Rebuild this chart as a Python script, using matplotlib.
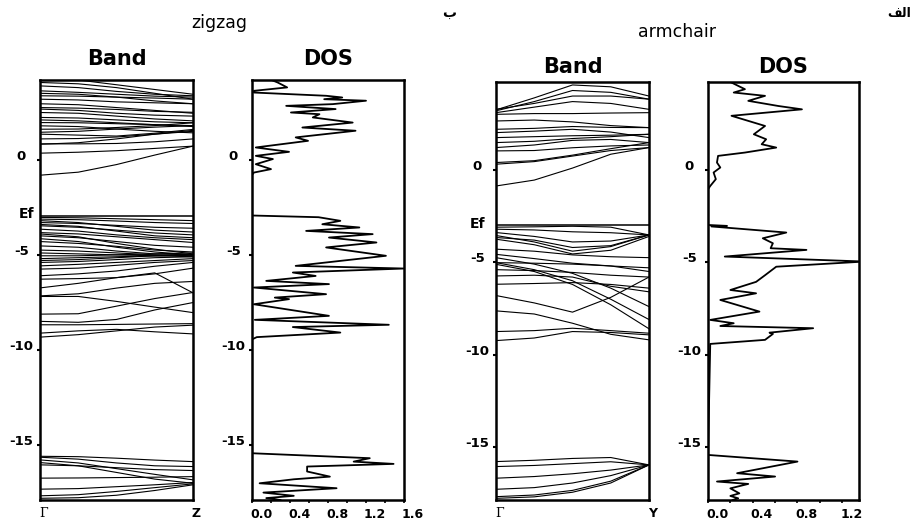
import matplotlib.pyplot as plt
from matplotlib.transforms import ScaledTranslation

# k path sampled at five points between the two zone labels
K_PTS = [0.0, 0.25, 0.5, 0.75, 1.0]

E_TICKS = [0, -5, -10, -15]
E_TICK_LABELS = ['0', '-5', '-10', '-15']

# ---------------- zigzag ----------------
ZZ_EF = -2.95
ZZ_YLIM = (-17.9, 4.2)

zz_upper = [
    [-0.81, -0.65, -0.25, 0.25, 0.72],
    [0.35, 0.40, 0.48, 0.60, 0.72],
    [0.84, 0.84, 0.86, 0.95, 1.10],
    [0.82, 0.90, 1.10, 1.35, 1.55],
    [1.10, 1.12, 1.20, 1.35, 1.50],
    [1.35, 1.30, 1.25, 1.40, 1.60],
    [1.45, 1.50, 1.62, 1.72, 1.80],
    [1.61, 1.62, 1.70, 1.80, 1.95],
    [1.79, 1.75, 1.62, 1.50, 1.42],
    [1.96, 1.95, 1.90, 1.85, 1.80],
    [2.10, 2.05, 1.95, 1.85, 1.75],
    [2.23, 2.20, 2.10, 2.00, 1.95],
    [2.49, 2.45, 2.30, 2.15, 2.05],
    [2.67, 2.60, 2.45, 2.35, 2.30],
    [2.75, 2.72, 2.65, 2.55, 2.50],
    [2.95, 2.90, 2.75, 2.60, 2.45],
    [3.19, 3.15, 3.05, 3.00, 2.95],
    [3.37, 3.35, 3.30, 3.25, 3.19],
    [3.50, 3.45, 3.30, 3.10, 2.95],
    [3.63, 3.55, 3.45, 3.35, 3.30],
    [3.89, 3.80, 3.60, 3.45, 3.37],
    [4.07, 4.00, 3.80, 3.50, 3.19],
    [4.40, 4.20, 3.95, 3.70, 3.45],
]

zz_lower = [
    [-3.03, -3.05, -3.10, -3.15, -3.20],
    [-3.12, -3.15, -3.22, -3.30, -3.35],
    [-3.20, -3.30, -3.50, -3.70, -3.80],
    [-3.30, -3.35, -3.45, -3.55, -3.60],
    [-3.40, -3.50, -3.75, -4.00, -4.10],
    [-3.47, -3.55, -3.70, -3.85, -3.95],
    [-3.65, -3.75, -3.95, -4.10, -4.20],
    [-3.83, -3.90, -4.05, -4.20, -4.35],
    [-3.90, -4.05, -4.40, -4.70, -4.95],
    [-4.00, -4.10, -4.30, -4.50, -4.60],
    [-4.15, -4.30, -4.60, -4.85, -5.00],
    [-4.30, -4.40, -4.55, -4.75, -4.85],
    [-4.53, -4.60, -4.80, -4.95, -5.00],
    [-4.75, -4.80, -4.90, -5.00, -5.05],
    [-4.90, -4.95, -5.00, -5.05, -5.10],
    [-5.05, -5.05, -5.00, -4.95, -4.90],
    [-5.20, -5.15, -5.10, -5.05, -5.00],
    [-5.30, -5.25, -5.15, -5.05, -5.00],
    [-5.40, -5.35, -5.25, -5.15, -5.10],
    [-5.58, -5.50, -5.40, -5.30, -5.20],
    [-5.75, -5.70, -5.55, -5.40, -5.30],
    [-6.10, -6.00, -5.85, -5.60, -5.40],
    [-6.28, -6.25, -6.20, -6.00, -5.70],
    [-6.74, -6.50, -6.20, -5.95, -7.00],
    [-7.19, -7.19, -7.45, -7.75, -8.04],
    [-7.16, -7.05, -6.75, -6.50, -6.40],
    [-8.12, -8.10, -7.70, -7.30, -6.98],
    [-8.50, -8.55, -8.40, -7.90, -7.51],
    [-8.68, -8.68, -8.66, -8.64, -8.62],
    [-9.12, -9.00, -8.92, -9.05, -9.16],
    [-9.33, -9.20, -9.00, -8.80, -8.70],
]

zz_deep = [
    [-15.60, -15.62, -15.70, -15.80, -15.88],
    [-15.65, -15.75, -15.95, -16.10, -16.14],
    [-15.79, -15.95, -16.25, -16.55, -16.84],
    [-15.93, -16.10, -16.45, -16.80, -17.02],
    [-16.05, -16.10, -16.20, -16.30, -16.35],
    [-16.75, -16.74, -16.72, -16.70, -16.67],
    [-17.33, -17.30, -17.20, -17.10, -16.98],
    [-17.68, -17.62, -17.45, -17.25, -17.05],
    [-17.81, -17.78, -17.65, -17.40, -17.10],
]

zz_dos_e = [4.21, 4.07, 3.81, 3.63, 3.54, 3.37, 3.28, 3.19, 3.11, 2.93,
            2.84, 2.67, 2.49, 2.40, 2.23, 1.96, 1.70, 1.53, 1.18, 1.00,
            0.65, 0.42, 0.21, 0.04, -0.23, -0.49, -0.67, -0.80, -2.93, -3.02,
            -3.21, -3.39, -3.56, -3.74, -3.91, -4.09, -4.35, -4.61, -5.05, -5.58,
            -5.72, -5.93, -6.11, -6.37, -6.54, -6.72, -7.07, -7.25, -7.33, -7.60,
            -8.21, -8.42, -8.68, -8.80, -9.09, -9.33, -9.45, -15.44, -15.70, -15.88,
            -16.00, -16.14, -16.40, -16.67, -16.81, -17.02, -17.28, -17.51, -17.68, -17.80,
            -17.90]
zz_dos = [0.20, 0.27, 0.37, 0.02, 0.02, 0.78, 0.95, 0.76, 1.20, 0.85,
          0.36, 0.88, 0.41, 0.71, 0.64, 1.06, 0.53, 1.09, 0.46, 0.59,
          0.04, 0.39, 0.04, 0.22, 0.04, 0.20, 0.02, 0.00, 0.00, 0.70,
          0.93, 0.74, 1.13, 0.57, 1.27, 0.81, 1.31, 0.78, 1.41, 0.46,
          1.60, 0.43, 0.67, 0.15, 0.81, 0.02, 0.78, 0.24, 0.39, 0.02,
          0.81, 0.03, 1.44, 0.43, 0.93, 0.05, 0.00, 0.00, 1.24, 1.07,
          1.49, 0.58, 0.58, 0.82, 0.44, 0.08, 0.89, 0.12, 0.44, 0.15,
          0.30]
ZZ_DOS_TICKS = [0.0, 0.4, 0.8, 1.2, 1.6]
ZZ_DOS_LABELS = ['0.0', '0.4', '0.8', '1.2', '1.6']
ZZ_DOS_MINOR = [0.2, 0.6, 1.0, 1.4]

# ---------------- armchair ----------------
AC_EF = -3.0
AC_YLIM = (-17.87, 4.76)

ac_upper = [
    [-0.87, -0.55, 0.10, 0.85, 1.21],
    [0.31, 0.45, 0.75, 1.05, 1.21],
    [0.40, 0.50, 0.80, 1.15, 1.48],
    [1.03, 1.05, 1.20, 1.30, 1.35],
    [1.21, 1.35, 1.60, 1.65, 1.48],
    [1.48, 1.55, 1.70, 1.80, 1.93],
    [1.75, 1.80, 1.85, 1.88, 1.93],
    [2.02, 2.10, 2.20, 2.05, 1.75],
    [2.20, 2.25, 2.35, 2.30, 2.29],
    [2.65, 2.70, 2.60, 2.40, 2.29],
    [3.01, 3.05, 3.05, 3.08, 3.10],
    [3.10, 3.40, 3.70, 3.60, 3.28],
    [3.28, 3.60, 4.00, 4.00, 3.83],
    [3.20, 3.70, 4.30, 4.20, 3.83],
    [3.25, 3.90, 4.60, 4.50, 4.00],
]

ac_lower = [
    [-3.10, -3.08, -3.05, -3.10, -3.52],
    [-3.21, -3.25, -3.35, -3.40, -3.52],
    [-3.39, -3.60, -3.90, -3.85, -3.52],
    [-3.66, -3.80, -4.20, -4.10, -3.52],
    [-3.55, -3.90, -4.40, -4.15, -3.52],
    [-3.75, -4.05, -4.55, -4.35, -3.60],
    [-4.29, -4.40, -4.60, -4.70, -4.75],
    [-4.57, -4.80, -5.05, -5.20, -5.30],
    [-4.75, -5.10, -5.60, -6.40, -7.40],
    [-5.02, -5.40, -6.00, -7.00, -8.10],
    [-5.11, -5.50, -6.20, -7.30, -8.60],
    [-5.02, -5.05, -5.10, -5.20, -5.50],
    [-5.40, -5.45, -5.55, -5.70, -5.80],
    [-5.74, -5.70, -5.80, -6.30, -6.60],
    [-6.19, -6.15, -6.10, -6.20, -6.40],
    [-6.80, -7.20, -7.70, -6.90, -5.80],
    [-7.63, -7.80, -8.30, -8.90, -9.20],
    [-8.75, -8.70, -8.57, -8.70, -8.84],
    [-9.24, -9.10, -8.75, -8.80, -8.93],
]

ac_deep = [
    [-15.79, -15.72, -15.62, -15.57, -15.97],
    [-16.06, -16.00, -15.90, -15.80, -15.97],
    [-16.69, -16.60, -16.45, -16.25, -15.97],
    [-17.29, -17.20, -16.95, -16.55, -15.97],
    [-17.69, -17.60, -17.35, -16.85, -15.97],
    [-17.78, -17.70, -17.45, -16.95, -15.97],
]

ac_dos_e = [4.76, 4.73, 4.37, 4.19, 4.01, 3.74, 3.46, 3.28, 2.93, 2.38,
            1.93, 1.66, 1.39, 1.21, 0.94, 0.76, 0.40, 0.13, -0.14, -0.50,
            -0.87, -1.05, -2.98, -3.03, -3.06, -3.39, -3.70, -3.97, -4.24, -4.33,
            -4.69, -4.96, -5.24, -5.70, -6.06, -6.50, -6.68, -7.04, -7.67, -8.12,
            -8.30, -8.45, -8.57, -8.81, -8.88, -9.20, -9.42, -15.43, -15.79, -16.42,
            -16.60, -16.87, -17.00, -17.24, -17.51, -17.65, -17.78, -17.87]
ac_dos = [0.20, 0.21, 0.33, 0.23, 0.51, 0.36, 0.63, 0.84, 0.21, 0.51,
          0.41, 0.52, 0.48, 0.61, 0.33, 0.09, 0.08, 0.11, 0.05, 0.07,
          0.02, 0.00, 0.00, 0.17, 0.03, 0.70, 0.49, 0.58, 0.56, 0.88,
          0.15, 1.40, 0.61, 0.51, 0.43, 0.20, 0.43, 0.11, 0.46, 0.02,
          0.23, 0.11, 0.94, 0.55, 0.58, 0.51, 0.02, 0.00, 0.80, 0.26,
          0.60, 0.08, 0.36, 0.20, 0.28, 0.20, 0.27, 0.22]
AC_DOS_TICKS = [0.0, 0.4, 0.8, 1.2]
AC_DOS_LABELS = ['0.0', '0.4', '0.8', '1.2']
AC_DOS_MINOR = [0.2, 0.6, 1.0]
AC_DOS_MAX = 1.35

W, H = 912, 521
fig = plt.figure(figsize=(W / 100, H / 100), dpi=100)
BOLD = dict(fontweight='bold')


def frame(l, t, r, b):
    return fig.add_axes([l / W, 1 - b / H, (r - l) / W, (b - t) / H])


def px(dx, dy):
    return ScaledTranslation(dx / 100, dy / 100, fig.dpi_scale_trans)


def energy_axis(ax, ylim):
    for s in ax.spines.values():
        s.set_linewidth(1.8)
    ax.set_ylim(*ylim)
    ax.set_yticks(E_TICKS)
    ax.tick_params(axis='y', length=2, width=1.5, pad=11.5)
    ax.set_yticklabels(E_TICK_LABELS, fontsize=9.5, ha='center', va='baseline', **BOLD)


def band_panel(ax, groups, ef, ylim, end_label, title_pad, ef_dx):
    for group in groups:
        for band in group:
            ax.plot(K_PTS, band, color='black', lw=0.8)
    ax.axhline(ef, color='black', lw=1.1)
    ax.set_xlim(0, 1)
    energy_axis(ax, ylim)
    ax.set_xticks([0, 1])
    ax.set_xticklabels(['', ''])
    ax.tick_params(axis='x', length=0)
    # zone labels under the two corners
    ax.text(0, ylim[0], 'Γ', family='DejaVu Serif', fontsize=9, ha='left', va='baseline',
            transform=ax.transData + px(-1, -17))
    ax.text(1, ylim[0], end_label, fontsize=9, ha='left', va='baseline',
            transform=ax.transData + px(-1, -17), **BOLD)
    ax.text(0, ef, 'Ef', fontsize=10, ha='center', va='baseline',
            transform=ax.get_yaxis_transform() + px(ef_dx, -2.5), **BOLD)
    ax.set_title('Band', fontsize=15, pad=title_pad, **BOLD)


def dos_panel(ax, e, d, ylim, xmax, ticks, labels, minor, title_pad):
    ax.plot(d, e, color='black', lw=1.3)
    ax.set_xlim(0, xmax)
    energy_axis(ax, ylim)
    ax.set_xticks(ticks)
    ax.set_xticks(minor, minor=True)
    ax.tick_params(axis='x', which='both', length=2, width=1.2, pad=4)
    ax.set_xticklabels(labels, fontsize=9, ha='left', **BOLD)
    for lab in ax.get_xticklabels():
        lab.set_transform(lab.get_transform() + px(-2, 0))
    ax.set_title('DOS', fontsize=15, pad=title_pad, **BOLD)


ax1 = frame(40, 80, 193, 500)
band_panel(ax1, [zz_upper, zz_lower, zz_deep], ZZ_EF, ZZ_YLIM, 'Z', 11, -13)
ax2 = frame(252, 80, 404, 500)
dos_panel(ax2, zz_dos_e, zz_dos, ZZ_YLIM, 1.6, ZZ_DOS_TICKS, ZZ_DOS_LABELS, ZZ_DOS_MINOR, 11)

ax3 = frame(496, 82, 649, 500)
band_panel(ax3, [ac_upper, ac_lower, ac_deep], AC_EF, AC_YLIM, 'Y', 6.5, -18)
ax4 = frame(708, 82, 859, 500)
dos_panel(ax4, ac_dos_e, ac_dos, AC_YLIM, AC_DOS_MAX, AC_DOS_TICKS, AC_DOS_LABELS, AC_DOS_MINOR, 6.5)

fig.text(219 / W, 1 - 28 / H, 'zigzag', fontsize=12.5, ha='center', va='baseline')
fig.text(677 / W, 1 - 37 / H, 'armchair', fontsize=12.5, ha='center', va='baseline')
# panel letters (Arabic, shaped forms in visual order)
fig.text(449 / W, 1 - 17 / H, '\u0628', fontsize=10, ha='center', va='baseline', **BOLD)
fig.text(911 / W, 1 - 17 / H, '\uFED2\uFEDF\uFE8D', fontsize=9, ha='right', va='baseline', **BOLD)

fig.savefig('out.png', dpi=100)
